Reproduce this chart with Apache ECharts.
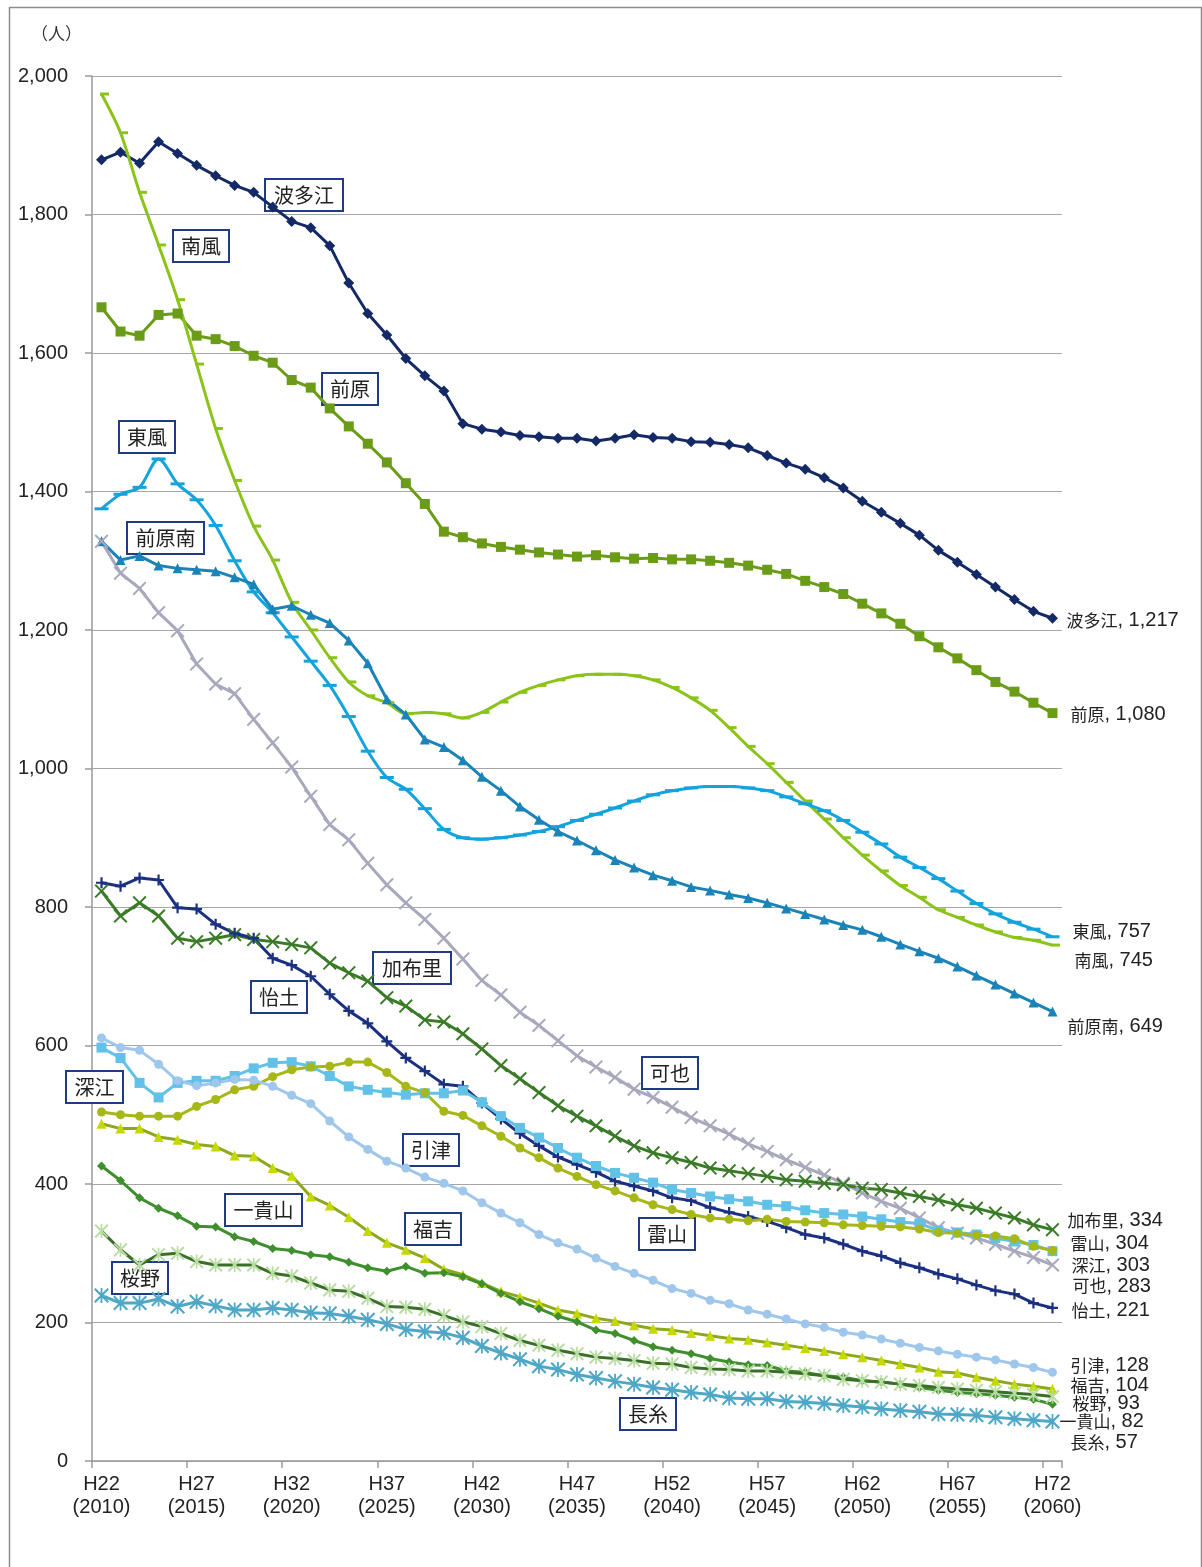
<!DOCTYPE html>
<html>
<head>
<meta charset="utf-8">
<title>校区別人口推計</title>
<script src="https://cdn.jsdelivr.net/npm/echarts@6/dist/echarts.min.js"></script>
<style>
    html, body { margin: 0; padding: 0; background: #fff; }
    #myChart { width: 1202px; height: 1567px; }
</style>
</head>
<body>
<div id="myChart"></div>
<script>
// 横軸 H22(2010) 〜 H72(2060)
var years = [];
for (var y = 2010; y <= 2060; y++) {
    years.push('H' + (y - 1988) + '\n(' + y + ')');
}
var yTicks = [0, 200, 400, 600, 800, 1000, 1200, 1400, 1600, 1800, 2000];

// 校区ごとの推計値（人）
var hatae = [1879,1890,1874,1905,1888,1871,1856,1842,1832,1811,1790,1781,1755,1701,1657,1626,1592,1567,1545,1498,1490,1486,1481,1479,1477,1477,1473,1477,1482,1478,1477,1472,1471,1468,1463,1452,1441,1432,1420,1405,1386,1370,1354,1337,1315,1298,1280,1262,1244,1227,1217];
var maebaru = [1666,1631,1625,1655,1657,1625,1620,1610,1596,1586,1561,1550,1520,1494,1469,1442,1412,1382,1342,1334,1325,1320,1316,1312,1309,1306,1308,1305,1303,1304,1302,1302,1300,1297,1293,1287,1281,1271,1262,1252,1238,1224,1209,1191,1175,1159,1142,1125,1111,1095,1080];
var minamikaze = [1974,1918,1832,1756,1677,1584,1491,1416,1350,1301,1240,1200,1160,1125,1105,1095,1079,1081,1079,1073,1081,1096,1110,1120,1128,1134,1136,1136,1134,1128,1117,1102,1084,1059,1032,1007,980,953,927,900,875,852,831,814,796,785,774,764,756,752,745];
var higashikaze = [1375,1396,1406,1447,1411,1388,1351,1300,1255,1225,1190,1155,1120,1075,1025,987,970,942,912,900,898,900,904,909,916,925,934,943,953,962,968,972,974,974,972,968,959,949,939,925,908,891,872,857,841,823,805,790,778,768,757];
var maebaruminami = [1328,1301,1307,1293,1289,1287,1285,1276,1266,1230,1235,1222,1210,1185,1152,1100,1078,1042,1031,1012,988,968,945,926,909,896,882,868,857,846,838,829,824,818,813,806,798,790,782,774,767,757,746,736,726,714,701,688,675,662,649];
var kaya = [1328,1282,1260,1225,1199,1151,1122,1108,1071,1037,1002,960,919,897,863,832,806,782,755,725,694,673,648,629,607,585,569,554,537,525,511,496,484,472,458,447,435,424,413,401,387,375,365,351,337,329,322,313,303,294,283];
var kafuri = [823,787,806,787,755,750,755,760,753,750,746,741,719,705,693,669,657,637,634,617,595,571,552,532,513,498,484,469,455,445,438,431,423,419,415,411,406,404,401,399,394,392,387,382,377,370,365,358,351,341,334];
var ido = [835,830,842,839,799,797,775,762,755,726,716,700,674,650,632,606,582,563,544,541,517,494,473,455,439,428,417,404,397,390,380,376,366,359,353,346,337,327,322,313,303,296,286,279,270,263,254,246,241,228,221];
var fukae = [597,582,546,525,546,549,549,556,567,575,576,570,556,541,536,532,529,531,531,535,518,498,481,467,452,438,426,416,409,402,392,387,382,378,375,370,368,362,358,356,353,349,345,343,333,330,327,322,317,312,303];
var raizan = [504,500,498,498,498,512,522,536,541,555,565,569,570,576,576,561,541,532,505,499,484,469,452,438,423,411,399,390,380,370,363,356,351,349,347,349,346,345,344,341,340,339,338,335,330,329,326,325,321,310,304];
var hikitsu = [611,597,593,573,549,542,546,551,550,541,528,516,491,468,450,433,423,410,401,390,373,358,344,327,315,306,293,281,271,261,249,242,232,227,218,212,205,198,193,186,182,176,170,164,159,154,150,146,140,135,128];
var fukuyoshi = [487,480,480,468,464,457,454,441,440,423,412,382,369,352,332,315,305,293,277,269,257,245,237,228,218,213,206,202,196,191,189,185,181,177,175,171,167,163,159,154,150,145,140,135,129,127,121,116,111,108,104];
var ikisan = [426,405,380,365,354,339,338,324,317,307,304,298,295,287,279,274,281,271,272,266,256,242,230,220,209,201,189,184,174,165,160,155,148,143,139,138,130,128,123,121,116,114,111,106,102,99,97,95,92,89,82];
var sakurano = [332,305,283,298,300,288,283,283,283,271,267,257,247,245,235,223,222,219,210,201,194,184,174,167,160,155,150,148,145,141,140,135,133,132,130,130,128,126,123,118,116,114,111,109,106,104,102,100,98,96,93];
var nagaito = [239,228,228,234,223,230,224,218,218,221,218,214,213,209,204,198,190,187,185,178,166,156,147,137,132,125,120,115,111,106,103,99,96,91,90,90,86,85,83,80,78,75,73,71,68,67,66,63,61,59,57];

// マーカー形状
var xMark = 'path://M0,1L1,0L5,4L9,0L10,1L6,5L10,9L9,10L5,6L1,10L0,9L4,5Z';
var plusMark = 'path://M4,0H6V4H10V6H6V10H4V6H0V4H4Z';
var starMark = 'path://M0,1L1,0L5,4L9,0L10,1L6,5L10,9L9,10L5,6L1,10L0,9L4,5ZM4.4,0H5.6V10H4.4Z';

var cjk = '"Noto Sans CJK JP", "Noto Sans CJK SC", sans-serif';
var latin = '"Liberation Sans", Arial, sans-serif';

function fmt(n) {
    return String(n).replace(/\B(?=(\d{3})+(?!\d))/g, ',');
}

// name, data, line color, marker color, symbol, size, end label offset [dx, dy], extra
var defs = [
    ['波多江', hatae, '#142a66', '#142a66', 'diamond', 11, [14, 2]],
    ['前原', maebaru, '#6b9c17', '#6b9c17', 'rect', 10, [18, 1]],
    ['南風', minamikaze, '#8cc31a', '#8cc31a', 'rect', [9, 3], [19, 15], {smooth: 0.3, symbolOffset: [3, 0]}],
    ['東風', higashikaze, '#13a3dd', '#13a3dd', 'rect', [14, 3], [20, -5], {smooth: 0.3}],
    ['前原南', maebaruminami, '#1a84b8', '#1a84b8', 'triangle', 10, [15, 15]],
    ['可也', kaya, '#a8a8bd', '#a8a8bd', xMark, 14, [20, 21]],
    ['加布里', kafuri, '#3a7b27', '#3a7b27', xMark, 14, [15, -9]],
    ['怡土', ido, '#1b3080', '#1b3080', plusMark, 11, [19, 3]],
    ['深江', fukae, '#62c1e7', '#62c1e7', 'rect', 10, [19, 14]],
    ['雷山', raizan, '#a6b716', '#a6b716', 'circle', 9, [18, -7]],
    ['引津', hikitsu, '#9fc7eb', '#9fc7eb', 'circle', 9, [18, -7]],
    ['福吉', fukuyoshi, '#8da81c', '#c5d900', 'triangle', 10, [18, -3]],
    ['一貴山', ikisan, '#3f8f2e', '#3f8f2e', 'diamond', 9, [7, 17]],
    ['桜野', sakurano, '#3a6f27', '#b8dca2', starMark, 14, [20, 7]],
    ['長糸', nagaito, '#4ea7c6', '#4ea7c6', starMark, 15, [18, 21]]
];

var series = defs.map(function (d) {
    var vals = d[1];
    var last = vals.length - 1;
    var data = vals.map(function (v, i) {
        if (i !== last) return v;
        return {
            value: v,
            label: {
                show: true,
                position: 'inside',
                align: 'left',
                verticalAlign: 'middle',
                offset: d[6],
                formatter: '{c|' + d[0] + '}{n|, ' + fmt(v) + '}',
                rich: {
                    c: {fontFamily: cjk, fontSize: 17, color: '#222'},
                    n: {fontFamily: latin, fontSize: 20, color: '#222'}
                }
            }
        };
    });
    var s = {
        name: d[0],
        type: 'line',
        data: data,
        symbol: d[4],
        symbolSize: d[5],
        showAllSymbol: true,
        lineStyle: {color: d[2], width: 3},
        itemStyle: {color: d[3]},
        z: 3
    };
    var extra = d[7] || {};
    for (var k in extra) s[k] = extra[k];
    return s;
});

// 吹き出し（系列名の囲み）
var callouts = [
    ['波多江', 264, 178, 78],
    ['南風', 172, 229, 56],
    ['前原', 321, 372, 56],
    ['東風', 118, 420, 56],
    ['前原南', 126, 521, 77],
    ['加布里', 372, 951, 78],
    ['怡土', 250, 980, 56],
    ['可也', 641, 1056, 56],
    ['深江', 65, 1070, 57],
    ['引津', 402, 1133, 56],
    ['一貴山', 224, 1193, 77],
    ['福吉', 404, 1212, 56],
    ['雷山', 638, 1217, 56],
    ['桜野', 111, 1261, 56],
    ['長糸', 619, 1397, 56]
];

var graphics = [
    {type: 'rect', left: 7, top: 5, z: 0, silent: true,
        shape: {x: 0, y: 0, width: 1192, height: 1600},
        style: {fill: 'none', stroke: '#8c8c8c', lineWidth: 1.5}},
    {type: 'text', left: 31, top: 25, z: 10,
        style: {text: '（人）', font: '17px ' + cjk, fill: '#333'}}
];
callouts.forEach(function (c) {
    graphics.push({
        type: 'group', left: c[1], top: c[2], z: 1,
        children: [
            {type: 'rect', z: 1, shape: {x: 0, y: 0, width: c[3], height: 32},
                style: {fill: '#fff', stroke: '#1f3b85', lineWidth: 2}},
            {type: 'text', z: 1, style: {text: c[0], x: c[3] / 2, y: 16, align: 'center',
                verticalAlign: 'middle', font: '20px ' + cjk, fill: '#222'}}
        ]
    });
});

var myChart = echarts.init(document.getElementById('myChart'));
myChart.setOption({
    animation: false,
    backgroundColor: '#fff',
    grid: {left: 92, right: 140, top: 76, bottom: 106, containLabel: false},
    xAxis: {
        type: 'category',
        data: years,
        boundaryGap: true,
        axisLine: {lineStyle: {color: '#9a9a9a', width: 1.5}},
        axisTick: {show: true, interval: 4, length: 7, lineStyle: {color: '#9a9a9a', width: 1.5}},
        axisLabel: {interval: 4, fontFamily: latin, fontSize: 20, lineHeight: 23, color: '#222', margin: 12}
    },
    yAxis: {
        type: 'value',
        min: yTicks[0],
        max: yTicks[yTicks.length - 1],
        interval: 200,
        axisLine: {show: true, lineStyle: {color: '#9a9a9a', width: 1.5}},
        axisTick: {show: true, length: 7, lineStyle: {color: '#9a9a9a', width: 1.5}},
        splitLine: {lineStyle: {color: '#a6a6a6', width: 1}},
        axisLabel: {fontFamily: latin, fontSize: 20, color: '#222', margin: 24,
            formatter: function (v) { return fmt(v); }}
    },
    graphic: graphics,
    series: series
});
</script>
</body>
</html>
